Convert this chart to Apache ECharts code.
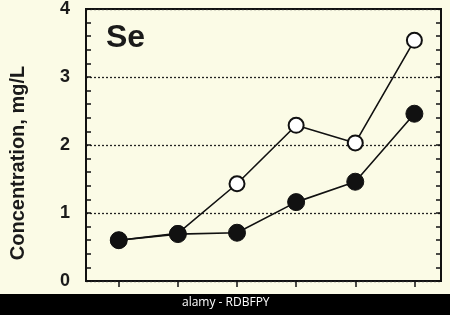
<!DOCTYPE html>
<html><head><meta charset="utf-8">
<script src="https://cdn.jsdelivr.net/npm/echarts@6/dist/echarts.min.js"></script>
<style>html,body{margin:0;padding:0;background:#fbfbe6;}#c{width:450px;height:315px;}</style>
</head><body><div id="c"></div>
<script>
const xValues = [1, 2, 3, 4, 5, 6];
const filledSeries = [0.6, 0.69, 0.71, 1.16, 1.46, 2.46];
const openSeries = [0.6, 0.7, 1.43, 2.29, 2.03, 3.54];
const yTickLabels = ['0', '1', '2', '3', '4'];

const chart = echarts.init(document.getElementById('c'));
const pairs = arr => arr.map((v, i) => [xValues[i], v]);
const labelFont = {fontFamily: 'Liberation Sans', fontWeight: 'bold', color: '#1a1a1a'};
chart.setOption({
  backgroundColor: '#fbfbe6',
  animation: false,
  grid: {left: 83, right: 9, top: 9, bottom: 34, show: true, borderColor: '#111', borderWidth: 2, backgroundColor: 'transparent'},
  xAxis: {
    type: 'value', min: 0.446, max: 6.45,
    axisLine: {show: false},
    axisTick: {show: true, customValues: xValues, length: 6, lineStyle: {color: '#111', width: 1.5}},
    axisLabel: {show: false},
    splitLine: {show: false}
  },
  yAxis: [{
    type: 'value', min: 0, max: 4, interval: 1,
    axisLine: {show: false},
    axisTick: {show: true, inside: true, length: 5, lineStyle: {color: '#111', width: 1.5}},
    minorTick: {show: true, splitNumber: 5, length: 5, lineStyle: {color: '#111', width: 1.5}},
    axisLabel: {...labelFont, fontSize: 18, margin: 16, formatter: v => yTickLabels[Math.round(v)]},
    splitLine: {show: true, lineStyle: {color: '#222', type: [2, 2], width: 1.3}},
    name: 'Concentration, mg/L', nameLocation: 'middle', nameGap: 58, nameRotate: 90,
    nameTextStyle: {...labelFont, fontSize: 20, padding: [0, 36, 0, 0]}
  }, {
    type: 'value', min: 0, max: 4, interval: 1, position: 'right',
    axisLine: {show: false},
    axisTick: {show: true, inside: true, length: 5, lineStyle: {color: '#111', width: 1.5}},
    minorTick: {show: true, splitNumber: 5, length: 5, lineStyle: {color: '#111', width: 1.5}},
    axisLabel: {show: false},
    splitLine: {show: false}
  }],
  graphic: [
    {type: 'text', left: 106, top: 22, style: {text: 'Se', font: 'bold 32px "Liberation Sans"', fill: '#1a1a1a'}},
    {type: 'rect', shape: {x: 0, y: 294, width: 450, height: 21}, style: {fill: '#000'}},
    {type: 'text', left: 182, top: 297, style: {text: 'alamy - RDBFPY', font: '12px "Open Sans"', fill: '#fff'}}
  ],
  series: [{
    type: 'line', data: pairs(openSeries), symbol: 'circle', symbolSize: 15,
    lineStyle: {color: '#111', width: 1.6},
    itemStyle: {color: '#fff', borderColor: '#111', borderWidth: 2},
    z: 2
  }, {
    type: 'line', data: pairs(filledSeries), symbol: 'circle', symbolSize: 17,
    lineStyle: {color: '#111', width: 1.6},
    itemStyle: {color: '#111', borderColor: '#111', borderWidth: 1},
    z: 3
  }]
});
</script></body></html>
